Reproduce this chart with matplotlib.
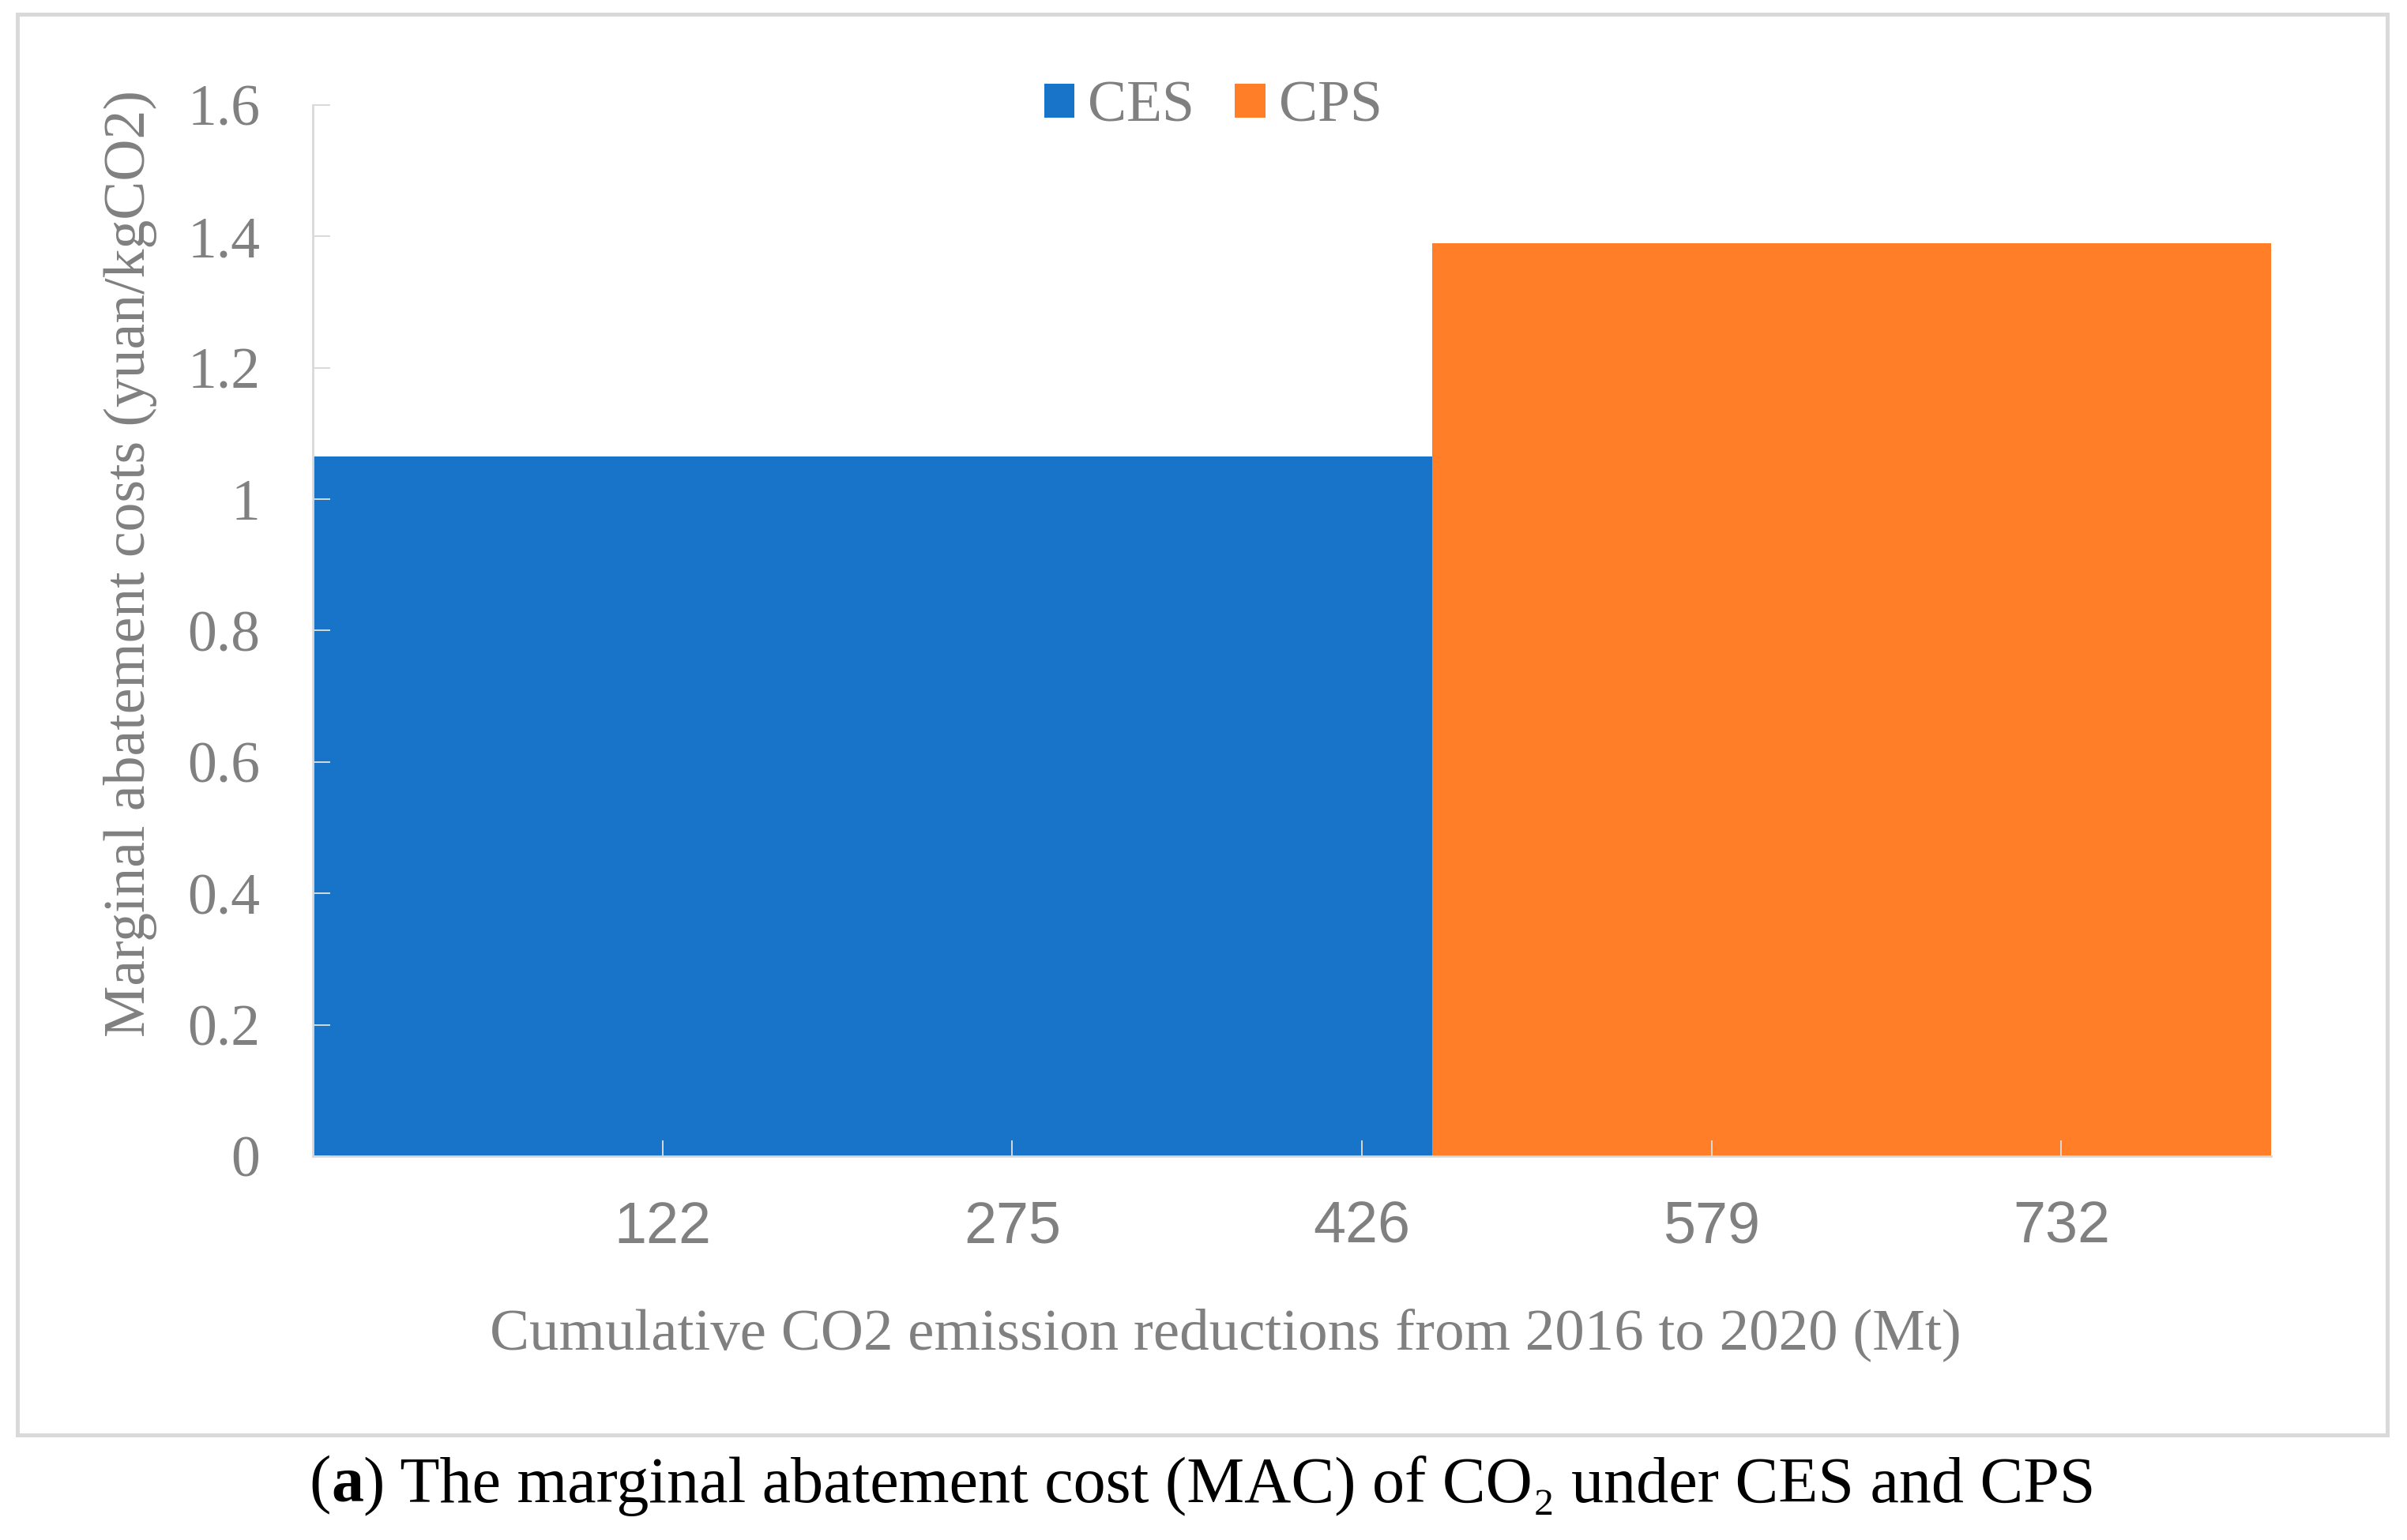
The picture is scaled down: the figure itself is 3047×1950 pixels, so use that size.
import numpy as np
import matplotlib
matplotlib.use('Agg')
import matplotlib.pyplot as plt
from matplotlib.patches import Rectangle

# data
scenarios = ['CES', 'CPS']
mac = [1.065, 1.39]                     # yuan/kgCO2
step_edges = [0.0, 3.2, 5.6]            # position along x (category units)
tick_pos = [1, 2, 3, 4, 5]
tick_labels = ['122', '275', '426', '579', '732']
y_ticks = [0, 0.2, 0.4, 0.6, 0.8, 1.0, 1.2, 1.4, 1.6]
y_tick_labels = ['0', '0.2', '0.4', '0.6', '0.8', '1', '1.2', '1.4', '1.6']

colors = ['#1874C8', '#FF7E27']
grey = '#808080'
light = '#D9D9D9'
serif = ['Liberation Serif', 'DejaVu Serif']
fs = 26.5

W, H = 3047, 1950
dpi = 200
fig = plt.figure(figsize=(W / dpi, H / dpi), dpi=dpi)

ax = fig.add_axes([396 / W, 1 - 1464 / H, (2875 - 396) / W, (1464 - 133) / H])
ax.bar(step_edges[:-1], mac, width=np.diff(step_edges), align='edge',
       color=colors, label=scenarios, linewidth=0, zorder=1)
ax.set_xlim(step_edges[0], step_edges[-1])
ax.set_ylim(0, 1.6)

for s in ['top', 'right']:
    ax.spines[s].set_visible(False)
for s in ['left', 'bottom']:
    ax.spines[s].set_color(light)
    ax.spines[s].set_linewidth(1.0)

ax.set_xticks(tick_pos)
ax.set_xticklabels(tick_labels, fontsize=fs, color=grey, family=['Liberation Sans', 'DejaVu Sans'])
ax.set_yticks(y_ticks)
ax.set_yticklabels(y_tick_labels, fontsize=fs, color=grey, family=serif)
ax.tick_params(axis='x', direction='in', length=7.2, width=0.7, color=light, pad=20)
ax.tick_params(axis='y', direction='in', length=8, width=0.7, color=light, pad=24)

ax.set_xlabel('Cumulative CO2 emission reductions from 2016 to 2020 (Mt)',
              fontsize=27, color=grey, family=serif, va='center')
ax.xaxis.set_label_coords(0.466, -0.170)
ax.set_ylabel('Marginal abatement costs (yuan/kgCO2)',
              fontsize=fs, color=grey, family=serif, va='center')
ax.yaxis.set_label_coords(-0.0932, 0.5635)

leg = fig.legend(loc='center', bbox_to_anchor=(0.504, 1 - 136 / H), ncol=2,
                 frameon=False, handlelength=0.52, handleheight=0.52,
                 handletextpad=0.23, columnspacing=0.7,
                 prop={'family': serif, 'size': fs})
for t in leg.get_texts():
    t.set_color(grey)

# chart border
fig.patches.append(Rectangle((22 / W, 1 - 1817 / H), 3000 / W, 1799 / H,
                             transform=fig.transFigure, fill=False,
                             edgecolor=light, linewidth=1.8))

# caption with bold "a"
renderer = fig.canvas.get_renderer()
parts = [('(', 'normal'), ('a', 'bold'),
         (') The marginal abatement cost (MAC) of CO\u2082 under CES and CPS', 'normal')]
cap_fs = 29.5
texts = []
for s, w in parts:
    texts.append(fig.text(0, 1 - 1881 / H, s, fontsize=cap_fs, weight=w,
                          family=serif, color='black', va='center'))
widths = [t.get_window_extent(renderer).width for t in texts]
x = 1522 - sum(widths) / 2
for t, wd in zip(texts, widths):
    t.set_x(x / W)
    x += wd

fig.savefig('out.png', dpi=dpi, facecolor='white')
